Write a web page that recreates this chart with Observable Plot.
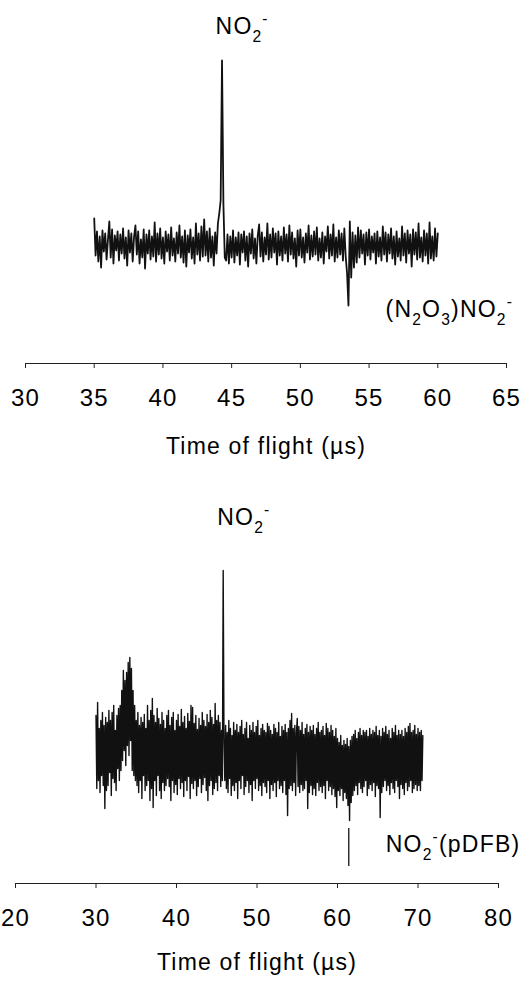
<!DOCTYPE html>
<html><head><meta charset="utf-8">
<script src="https://cdn.jsdelivr.net/npm/d3@7"></script>
<script src="https://cdn.jsdelivr.net/npm/@observablehq/plot@0.6"></script>
<style>body{margin:0;background:#fff} svg{display:block}</style>
</head><body><div id="top"></div><div id="bottom"></div>
<script>
const FONT = "'Liberation Sans', Arial, Helvetica, sans-serif";
const axisTitle = "Time of flight (µs)";

// ---------- Panel 1 ----------
const ticks1 = [30, 35, 40, 45, 50, 55, 60, 65];
const start1 = 35.0, step1 = 0.1;
const signal1 = [
  27,-10,14,-16,9,-22,15,-6,12,-14,
  6,24,-12,16,-18,10,-5,14,-15,11,
  -8,17,-13,8,-20,15,-7,12,-16,9,
  20,-9,14,-18,6,-12,16,-23,11,-8,
  15,-14,9,-11,23,-16,12,-9,17,-13,
  8,-18,14,-6,11,-15,18,-10,7,-16,
  13,-8,20,-12,9,-17,15,-21,10,-7,
  16,-13,8,-18,22,-9,12,-15,19,-11,
  26,-10,14,-16,17,-12,9,-20,13,-8,
  22,32,45,185,42,-12,-15,11,-18,9,
  -12,15,-17,8,-10,13,-19,11,-7,14,
  -15,9,-21,12,-8,16,-13,7,-18,10,
  21,-11,13,-16,8,-9,22,-14,11,-12,
  17,-7,12,-19,14,-10,9,-15,18,-8,
  11,-16,20,-9,13,-13,7,-21,15,-10,
  16,-12,8,-17,12,-7,20,-14,10,-11,
  14,-9,18,-15,7,-12,13,-18,9,-6,
  19,-13,11,-10,21,-16,8,-12,15,-9,
  12,-15,17,-11,-28,-60,24,-32,13,-22,
  10,-17,18,-12,15,-8,11,-19,13,-10,
  16,-14,9,-7,12,-18,14,-11,8,-15,
  19,-9,13,-16,11,-8,17,-13,9,-19,
  14,-11,7,-15,19,-10,12,-17,15,-8,
  11,-21,16,-9,13,-14,22,-12,8,-16,
  15,-10,12,-18,23,-13,9,-15,17,-11,
  12
];
const labels1 = ["NO_2^-", "(N_2O_3)NO_2^-"];
const labelTime1 = [43.83, 56.2];
const labelLevel1 = [218.5, -64.5];

// ---------- Panel 2 ----------
const ticks2 = [20, 30, 40, 50, 60, 70, 80];
const start2 = 30.0, step2 = 0.1;
const signal2 = [
  35,-38,48,-30,22,-42,30,-25,38,-35,
  25,-58,33,-40,28,-35,40,-22,30,-45,
  38,-28,45,-32,20,-40,35,-18,42,-30,
  45,-20,60,-10,80,0,70,-15,78,5,
  88,-5,93,10,82,-20,60,-25,45,-30,
  30,-35,38,-42,25,-30,33,-48,28,-25,
  36,-40,22,-35,45,-30,30,-50,40,-38,
  52,-57,35,-30,28,-45,42,-25,32,-40,
  26,-48,38,-32,30,-40,22,-35,35,-28,
  40,-36,25,-50,33,-30,38,-42,20,-34,
  30,-44,36,-28,24,-38,41,-32,28,-46,
  34,-30,22,-40,37,-26,29,-48,45,-33,
  43,-38,27,-30,35,-45,21,-36,32,-28,
  25,-42,38,-34,30,-27,24,-40,36,-50,
  28,-35,40,-30,33,-44,26,-38,47,-32,
  30,-40,35,-25,28,-36,20,-30,180,10,
  -30,25,-38,18,-42,30,-28,22,-45,15,
  -35,28,-40,20,-32,26,-48,18,-30,24,
  -38,30,-25,16,-44,22,-36,28,-30,12,
  -42,25,-34,20,-50,28,-30,18,-38,24,
  -28,30,-40,15,-35,22,-45,26,-32,20,
  -36,18,-42,27,-30,24,-48,20,-34,16,
  -40,26,-32,22,-46,18,-30,28,-38,14,
  -35,24,-42,20,-30,26,-44,18,-65,22,
  -38,30,-35,37,-40,22,-32,25,-45,18,
  32,-36,24,-42,20,-34,28,-40,16,-38,
  22,-30,26,-58,18,-42,24,-35,20,-44,
  25,-38,16,-45,22,-32,28,-40,18,-36,
  20,-42,24,-35,15,-48,27,-30,22,-40,
  18,-36,25,-44,20,-38,14,-46,22,-57,
  12,-40,8,-45,15,-38,5,-50,10,-42,
  6,-48,12,-55,4,-70,10,-52,14,-45,
  16,-40,20,-35,12,-44,18,-32,22,-38,
  15,-42,20,-36,18,-30,20,-45,14,-38,
  22,-34,16,-40,20,-32,18,-46,24,-35,
  15,-38,20,-67,14,-42,22,-36,18,-30,
  24,-40,16,-35,20,-44,12,-32,22,-38,
  18,-42,25,-30,15,-36,20,-48,16,-34,
  20,-38,14,-44,22,-32,18,-40,24,-36,
  27,-30,18,-42,20,-38,25,-34,16,-40,
  22,-35,18,-40,20,-30,15
];
const labels2 = ["NO_2^-", "NO_2^-(pDFB)"];
const labelTime2 = [45.06, 66.0];
const labelLevel2 = [232.5, -94.5];
const markerTime2 = [61.4];
const markerTop2 = [-78];
const markerBottom2 = [-116];

function toRows(start, step, values) {
  return values.map((v, i) => ({t: +(start + i * step).toFixed(3), v}));
}

function richify(svg) {
  d3.select(svg).selectAll("text").each(function () {
    const s = this.textContent;
    if (!/[_^]/.test(s)) return;
    const size = parseFloat(getComputedStyle(this).fontSize) || 23;
    this.textContent = "";
    let cur = 0, i = 0;
    while (i < s.length) {
      let ch = s[i], shift = 0, small = false;
      if (ch === "_") { ch = s[i + 1]; shift = 0.34 * size; small = true; i += 2; }
      else if (ch === "^") { ch = s[i + 1]; shift = -0.45 * size; small = true; i += 2; }
      else { i += 1; }
      const t = document.createElementNS("http://www.w3.org/2000/svg", "tspan");
      t.textContent = ch;
      const d = shift - cur;
      if (d) t.setAttribute("dy", d);
      cur = shift;
      if (small) t.setAttribute("font-size", (0.68 * size).toFixed(1));
      this.appendChild(t);
    }
  });
}

function panel(o) {
  const rows = toRows(o.start, o.step, o.values);
  const ann = o.labels.map((s, i) => ({s, t: o.labelTime[i], v: o.labelLevel[i]}));
  const marks = [
    Plot.ruleY([o.yDomain[0]], {stroke: "#222", strokeWidth: 1.2}),
    Plot.axisX({ticks: o.ticks, tickSize: 5, tickPadding: o.tp, fontSize: 24, label: null,
                tickFormat: d => String(d), stroke: "#222"}),
    Plot.line(rows, {x: "t", y: "v", stroke: "#111", strokeWidth: o.sw}),
    Plot.text(ann, {x: "t", y: "v", text: "s", textAnchor: "start", fontSize: 23}),
    Plot.text([axisTitle], {frameAnchor: "bottom", dy: o.titleDy, fontSize: 23})
  ];
  if (o.markerTime) {
    const mk = o.markerTime.map((t, i) => ({t, a: o.markerTop[i], b: o.markerBottom[i]}));
    marks.push(Plot.ruleX(mk, {x: "t", y1: "a", y2: "b", stroke: "#111", strokeWidth: 1.3}));
  }
  return Plot.plot({
    width: 530, height: o.height,
    marginLeft: o.ml, marginRight: o.mr, marginTop: 40, marginBottom: o.mb,
    x: {domain: o.xDomain, axis: null},
    y: {domain: o.yDomain, axis: null},
    style: {fontFamily: FONT, background: "white", color: "black", letterSpacing: "1.2px", overflow: "visible"},
    marks
  });
}

const p1 = panel({start: start1, step: step1, values: signal1, ticks: ticks1,
  xDomain: [30, 65], yDomain: [-118, 205], ml: 25, mr: 24, mb: 127, height: 490,
  labels: labels1, labelTime: labelTime1, labelLevel: labelLevel1, titleDy: 90, tp: 20, sw: 1.8});
const p2 = panel({start: start2, step: step2, values: signal2, ticks: ticks2,
  xDomain: [20, 80], yDomain: [-133, 220], ml: 15, mr: 32, mb: 104, height: 497,
  labels: labels2, labelTime: labelTime2, labelLevel: labelLevel2, titleDy: 86, tp: 20, sw: 1.4,
  markerTime: markerTime2, markerTop: markerTop2, markerBottom: markerBottom2});
document.getElementById("top").appendChild(p1);
document.getElementById("bottom").appendChild(p2);
richify(p1); richify(p2);
</script>
</body></html>
